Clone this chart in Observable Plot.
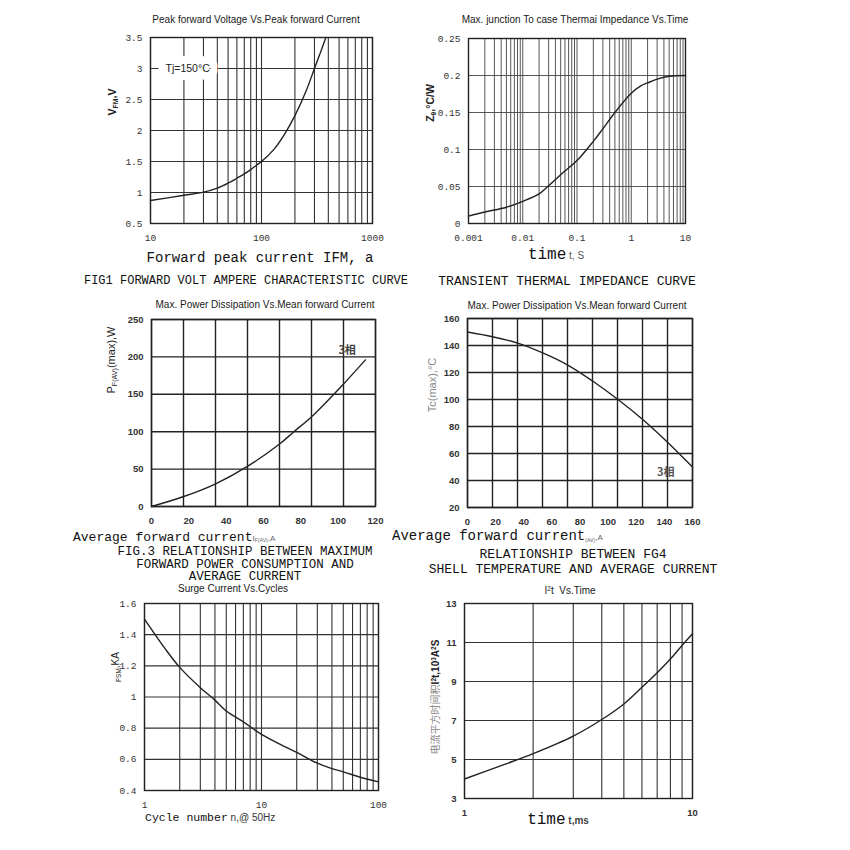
<!DOCTYPE html>
<html><head><meta charset="utf-8">
<script src="https://cdn.jsdelivr.net/npm/d3@7"></script>
<script src="https://cdn.jsdelivr.net/npm/@observablehq/plot@0.6"></script>
<style>
html,body{margin:0;padding:0;background:#fff;}
#page{position:relative;width:850px;height:850px;overflow:hidden;background:#fff;}
.abs{position:absolute;white-space:nowrap;line-height:1;z-index:2;}
.c{transform:translate(-50%,-50%);text-align:center;}
.l{transform:translate(0,-50%);}
.rot{transform:translate(-50%,-50%) rotate(-90deg);}
.title{font-family:"Liberation Sans",Arial,sans-serif;font-size:10px;color:#1a1a1a;}
.mono{font-family:"Liberation Mono","DejaVu Sans Mono",monospace;color:#111;}
.sans{font-family:"Liberation Sans",Arial,sans-serif;}
sub{font-size:65%;vertical-align:-0.3em;line-height:1;}
sup{font-size:65%;vertical-align:0.45em;line-height:1;}
</style></head><body><div id="page"></div>
<script>
// ---------- DATA ----------
// Fig 1: Peak forward voltage vs peak forward current
const p1Current = [10, 20, 30, 40, 50, 60, 70, 80, 90, 100, 130, 160, 200, 250, 300, 340, 380];
const p1Voltage = [0.87, 0.955, 1.005, 1.07, 1.15, 1.23, 1.30, 1.37, 1.44, 1.50, 1.70, 1.93, 2.24, 2.62, 3.0, 3.26, 3.5];
const p1XTicks = [10, 100, 1000];
const p1YTicks = [0.5, 1, 1.5, 2, 2.5, 3, 3.5];
const p1Note = [{x: 21.6, y: 3.0, label: "Tj=150°C"}];

// Fig 2: Transient thermal impedance vs time
const p2Time = [0.001, 0.002, 0.005, 0.01, 0.02, 0.03, 0.05, 0.1, 0.2, 0.3, 0.5, 1, 1.5, 2, 3, 5, 10];
const p2Z = [0.010, 0.0155, 0.022, 0.030, 0.040, 0.051, 0.066, 0.085, 0.111, 0.128, 0.150, 0.176, 0.186, 0.190, 0.195, 0.199, 0.200];
const p2XTicks = [0.001, 0.01, 0.1, 1, 10];
const p2YTicks = [0, 0.05, 0.1, 0.15, 0.2, 0.25];

// Fig 3: Max power dissipation vs mean forward current
const p3Current = [0, 16.9, 34.1, 51.4, 68.6, 76.3, 85.8, 97.7, 103, 114.6];
const p3Power = [0, 13, 30, 53.6, 83.5, 100, 120, 150, 164, 196];
const p3XTicks = [0, 20, 40, 60, 80, 100, 120];
const p3YTicks = [0, 50, 100, 150, 200, 250];
const p3Columns = 7;
const p3Note = [{x: 104.8, y: 208.5, label: "3相"}];

// Fig 4: Case temperature vs mean forward current
const p4Current = [0, 17.8, 35.7, 53.5, 71.3, 89.2, 107, 124.8, 142.6, 160];
const p4Temp = [150, 146.5, 141.8, 134.5, 125.5, 113.5, 100, 85, 68, 50];
const p4XTicks = [0, 20, 40, 60, 80, 100, 120, 140, 160];
const p4YTicks = [20, 40, 60, 80, 100, 120, 140, 160];
const p4Columns = 9;
const p4Note = [{x: 141, y: 46, label: "3相"}];

// Fig 5: Surge current vs cycles
const p5Cycles = [1, 1.5, 2, 3, 4, 5, 7, 10, 15, 20, 30, 40, 50, 70, 100];
const p5Surge = [1.5, 1.31, 1.19, 1.06, 0.98, 0.91, 0.84, 0.76, 0.69, 0.645, 0.575, 0.54, 0.52, 0.485, 0.455];
const p5XTicks = [1, 10, 100];
const p5YTicks = [0.4, 0.6, 0.8, 1, 1.2, 1.4, 1.6];

// Fig 6: I2t vs time
const p6Time = [1, 1.5, 2, 3, 4, 5, 6, 7, 8, 9, 10];
const p6I2t = [4.0, 4.75, 5.3, 6.2, 7.05, 7.85, 8.7, 9.45, 10.15, 10.85, 11.45];
const p6XTicks = [1, 10];
const p6YTicks = [3, 5, 7, 9, 11, 13];

// Texts
const titles = [
  "Peak forward Voltage Vs.Peak forward Current",
  "Max. junction To case Thermai Impedance Vs.Time",
  "Max. Power Dissipation Vs.Mean forward Current",
  "Max. Power Dissipation Vs.Mean forward Current",
  "Surge Current Vs.Cycles",
  "I<sup>2</sup>t&nbsp; Vs.Time"
];
const captions = [
  "FIG1 FORWARD VOLT AMPERE CHARACTERISTIC CURVE",
  "TRANSIENT THERMAL IMPEDANCE CURVE",
  "FIG.3 RELATIONSHIP BETWEEN MAXIMUM<br>FORWARD POWER CONSUMPTION AND<br>AVERAGE CURRENT",
  "RELATIONSHIP BETWEEN FG4<br>SHELL TEMPERATURE AND AVERAGE CURRENT"
];

// ---------- HELPERS ----------
const page = document.getElementById("page");

function logGrid(from, to) {
  const out = [];
  for (let d = from; d < to * 0.999; d *= 10)
    for (let m = 1; m < 10; m++) out.push(+(m * d).toPrecision(3));
  out.push(to);
  return out;
}
function evenGrid(domain, n) {
  return d3.range(n + 1).map(i => domain[0] + (domain[1] - domain[0]) * i / n);
}
function rows(xs, ys) { return xs.map((v, i) => ({x: v, y: ys[i]})); }

function makePanel(f, cfg) {
  const ML = 52, MR = 18, MT = 8, MB = 30;
  const svg = Plot.plot({
    width: f.w + ML + MR, height: f.h + MT + MB,
    marginLeft: ML, marginRight: MR, marginTop: MT, marginBottom: MB,
    style: {background: "transparent", fontFamily: cfg.tickFamily, fontSize: cfg.tickSize + "px",
            fontWeight: cfg.tickWeight || "normal", color: cfg.tickColor || "#333", overflow: "visible"},
    x: {type: cfg.xType || "linear", domain: cfg.xDomain},
    y: {type: "linear", domain: cfg.yDomain},
    marks: [
      Plot.gridX(cfg.gridX, {stroke: cfg.gridColor, strokeOpacity: 1, strokeWidth: cfg.gridWidth}),
      Plot.gridY(cfg.gridY, {stroke: cfg.gridColor, strokeOpacity: 1, strokeWidth: cfg.gridWidth}),
      ...(cfg.under || []),
      Plot.line(cfg.data, {x: "x", y: "y", stroke: "#222", strokeWidth: 1.4, curve: "catmull-rom"}),
      Plot.frame({stroke: "#222", strokeWidth: 1.4}),
      Plot.axisX({ticks: cfg.xTicks, tickSize: 0, tickPadding: 11, tickFormat: d => String(d), label: null}),
      Plot.axisY({ticks: cfg.yTicks, tickSize: 0, tickPadding: 8, tickFormat: d => String(d), label: null}),
      ...(cfg.over || [])
    ]
  });
  const holder = document.createElement("div");
  holder.style.cssText = `position:absolute;left:${f.l - ML}px;top:${f.t - MT}px;z-index:1;`;
  holder.appendChild(svg);
  page.appendChild(holder);
}

function addText(html, x, y, cls, style) {
  const d = document.createElement("div");
  d.className = "abs " + cls;
  d.style.cssText = `left:${x}px;top:${y}px;` + (style || "");
  d.innerHTML = html;
  page.appendChild(d);
}

// ---------- PANELS ----------
const F1 = {l: 150, t: 37, w: 222, h: 186};
const F2 = {l: 468, t: 38, w: 217, h: 185};
const F3 = {l: 151, t: 319, w: 224, h: 187};
const F4 = {l: 467, t: 318, w: 225, h: 189};
const F5 = {l: 144, t: 603, w: 234, h: 187};
const F6 = {l: 464, t: 603, w: 228, h: 195};

const monoTicks = {tickFamily: "'Liberation Mono', monospace", tickSize: 9.5, tickColor: "#333"};
const boldTicks = {tickFamily: "'Liberation Sans', Arial, sans-serif", tickSize: 9.5, tickWeight: "bold", tickColor: "#333"};

makePanel(F1, {...monoTicks, xType: "log", xDomain: [10, 1000], yDomain: [0.5, 3.5],
  gridX: logGrid(10, 1000), gridY: p1YTicks, gridColor: "#333", gridWidth: 1.1,
  data: rows(p1Current, p1Voltage), xTicks: p1XTicks, yTicks: p1YTicks,
  over: [Plot.text(p1Note, {x: "x", y: "y", text: "label", fontFamily: "'Liberation Sans', Arial, sans-serif",
    fontSize: 10.5, fill: "#222", stroke: "white", strokeWidth: 16, strokeLinejoin: "round"})]
});

makePanel(F2, {...monoTicks, xType: "log", xDomain: [0.001, 10], yDomain: [0, 0.25],
  gridX: logGrid(0.001, 10), gridY: p2YTicks, gridColor: "#444", gridWidth: 0.9,
  data: rows(p2Time, p2Z), xTicks: p2XTicks, yTicks: p2YTicks});

makePanel(F3, {...boldTicks, xDomain: [0, 120], yDomain: [0, 250],
  gridX: evenGrid([0, 120], p3Columns), gridY: p3YTicks, gridColor: "#222", gridWidth: 1.4,
  data: rows(p3Current, p3Power), xTicks: p3XTicks, yTicks: p3YTicks,
  over: [Plot.text(p3Note, {x: "x", y: "y", text: "label", fontFamily: "'Noto Sans CJK SC', sans-serif",
    fontSize: 11, fill: "#444"})]
});

makePanel(F4, {...boldTicks, xDomain: [0, 160], yDomain: [20, 160],
  gridX: evenGrid([0, 160], p4Columns), gridY: p4YTicks, gridColor: "#222", gridWidth: 1.4,
  data: rows(p4Current, p4Temp), xTicks: p4XTicks, yTicks: p4YTicks,
  over: [Plot.text(p4Note, {x: "x", y: "y", text: "label", fontFamily: "'Noto Sans CJK SC', sans-serif",
    fontSize: 11, fill: "#555"})]
});

makePanel(F5, {...monoTicks, xType: "log", xDomain: [1, 100], yDomain: [0.4, 1.6],
  gridX: logGrid(1, 100), gridY: p5YTicks, gridColor: "#333", gridWidth: 1.1,
  data: rows(p5Cycles, p5Surge), xTicks: p5XTicks, yTicks: p5YTicks});

makePanel(F6, {...boldTicks, xType: "log", xDomain: [1, 10], yDomain: [3, 13],
  gridX: logGrid(1, 10), gridY: p6YTicks, gridColor: "#333", gridWidth: 1.1,
  data: rows(p6Time, p6I2t), xTicks: p6XTicks, yTicks: p6YTicks});

// ---------- TEXT ----------
// titles
addText(titles[0], 256, 20, "c title");
addText(titles[1], 575, 20, "c title");
addText(titles[2], 265, 305, "c title");
addText(titles[3], 577, 306, "c title");
addText(titles[4], 233, 589, "c title");
addText(titles[5], 570, 591, "c title");

// y labels
addText("V<sub>FM</sub>,V", 113, 102, "rot sans", "font-size:10.5px;font-weight:bold;color:#222;");
addText("Z<sub>θ</sub>,°C/W", 431, 103, "rot sans", "font-size:10.5px;font-weight:bold;color:#222;");
addText("P<sub>F(AV)</sub>(max),W", 113, 360, "rot sans", "font-size:11px;color:#222;");
addText("Tc(max),°C", 432, 385, "rot sans", "font-size:11px;color:#888;");
addText("<sub>FSM</sub>,KA", 117, 667, "rot sans", "font-size:10px;color:#222;");
addText("<span style=\"font-family:'Noto Sans CJK SC';color:#888;font-weight:normal\">电流平方时间积</span>I<sup>2</sup>t,10<sup>3</sup>A<sup>2</sup>S",
  435, 697, "rot sans", "font-size:10px;font-weight:bold;color:#222;");

// x axis titles
addText("Forward peak current IFM, a", 260, 258, "c mono", "font-size:14px;");
addText("time<span class='sans' style='font-size:10px;color:#555'> t, S</span>", 556, 255, "c mono", "font-size:16px;");
addText("Average forward current<span class='sans' style='font-size:8px;color:#666'>I<sub>F(AV)</sub>,A</span>", 73, 537, "l mono", "font-size:13px;");
addText("Average forward current<span class='sans' style='font-size:8px;color:#666'><sub>(AV)</sub>,A</span>", 392, 536, "l mono", "font-size:14px;");
addText("Cycle number<span class='sans' style='font-size:10px;color:#333'> n,@ 50Hz</span>", 145, 818, "l mono", "font-size:11.5px;");
addText("time<span class='sans' style='font-size:10px;font-weight:bold;color:#444'> t,ms</span>", 558, 820, "c mono", "font-size:16px;");

// captions
addText(captions[0], 246, 281, "c mono", "font-size:12px;");
addText(captions[1], 567, 281, "c mono", "font-size:13px;");
addText(captions[2], 245, 565, "c mono", "font-size:12.5px;line-height:12.5px;");
addText(captions[3], 573, 562, "c mono", "font-size:13px;line-height:15px;");
</script></body></html>
